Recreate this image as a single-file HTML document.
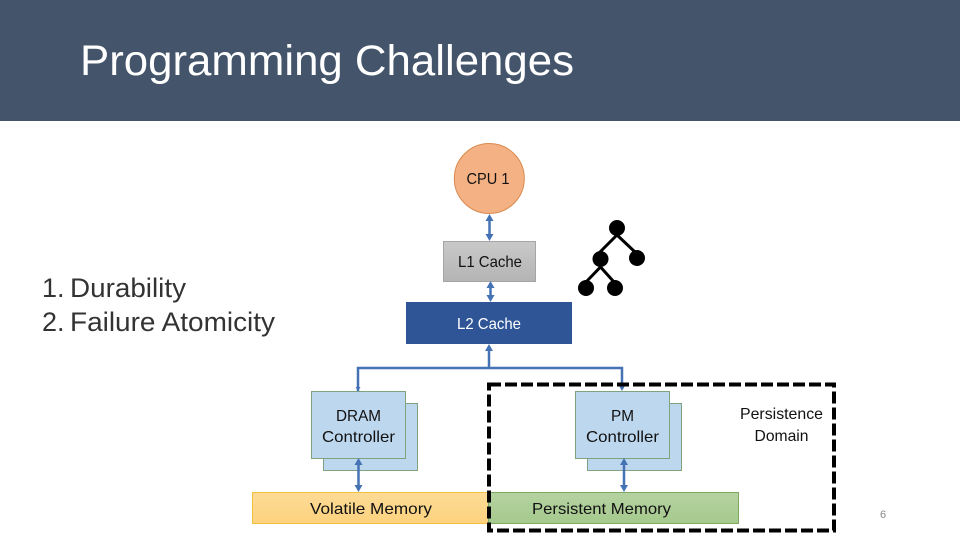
<!DOCTYPE html>
<html><head><meta charset="utf-8"><style>html,body{margin:0;padding:0;background:#fff}svg{display:block}text{font-family:"Liberation Sans",sans-serif}</style></head>
<body>
<svg width="960" height="540" viewBox="0 0 960 540" xmlns="http://www.w3.org/2000/svg">
<defs>
<linearGradient id="g1" x1="0" y1="0" x2="0" y2="1"><stop offset="0" stop-color="#c9c9c9"/><stop offset="1" stop-color="#b4b4b4"/></linearGradient>
<linearGradient id="g2" x1="0" y1="0" x2="0" y2="1"><stop offset="0" stop-color="#fddb96"/><stop offset="1" stop-color="#fdd27e"/></linearGradient>
<linearGradient id="g3" x1="0" y1="0" x2="0" y2="1"><stop offset="0" stop-color="#b5d3a2"/><stop offset="1" stop-color="#a5c98d"/></linearGradient>
</defs>
<rect width="960" height="121" fill="#44546a"/>
<text x="80" y="75" font-size="43" fill="#fff" textLength="494" lengthAdjust="spacingAndGlyphs">Programming Challenges</text>
<text x="42" y="297" font-size="27" fill="#333">1.</text>
<text x="70" y="297" font-size="27" fill="#333" textLength="116" lengthAdjust="spacingAndGlyphs">Durability</text>
<text x="42" y="331" font-size="27" fill="#333">2.</text>
<text x="70" y="331" font-size="27" fill="#333" textLength="205" lengthAdjust="spacingAndGlyphs">Failure Atomicity</text>

<circle cx="489.3" cy="178.5" r="35" fill="#f4b183" stroke="#d98a4e" stroke-width="1"/>
<rect x="443.5" y="241.5" width="92" height="40" fill="url(#g1)" stroke="#a5a5a5"/>
<rect x="406" y="302" width="166" height="42" fill="#2f5597"/>

<rect x="323.5" y="403.5" width="94" height="67" fill="#bdd7ee" stroke="#7fa37f"/>
<rect x="311.5" y="391.5" width="94" height="67" fill="#bdd7ee" stroke="#7fa37f"/>
<rect x="587.5" y="403.5" width="94" height="67" fill="#bdd7ee" stroke="#7fa37f"/>
<rect x="575.5" y="391.5" width="94" height="67" fill="#bdd7ee" stroke="#7fa37f"/>
<rect x="252.5" y="492.5" width="236" height="31" fill="url(#g2)" stroke="#f0c040"/>
<rect x="488.5" y="492.5" width="250" height="31" fill="url(#g3)" stroke="#7fa860"/>

<g stroke="#4472b4" stroke-width="2.5" fill="none">
<path d="M489.500 218V237"/><path d="M490.500 285V298"/><path d="M489 348V368"/>
<path d="M358 391V368H622V387"/>
<path d="M358.500 463V488"/><path d="M624 463V488"/>
</g>
<g fill="#4472b4">
<path d="M489.500 214l-4 7h8z"/><path d="M489.500 241l-4-7h8z"/>
<path d="M490.500 281l-4 7h8z"/><path d="M490.500 302l-4-7h8z"/>
<path d="M489 344l-4 7h8z"/>
<path d="M358 391l-2.500-4h5z"/>
<path d="M622 391l-4-7h8z"/>
<path d="M358.500 458l-4 7h8z"/><path d="M358.500 492l-4-7h8z"/>
<path d="M624 458l-4 7h8z"/><path d="M624 492l-4-7h8z"/>
</g>

<rect x="489" y="384.500" width="345" height="146" fill="none" stroke="#000" stroke-width="4" stroke-dasharray="12 4"/>

<g stroke="#000" stroke-width="3" fill="none">
<path d="M617 228V235"/>
<path d="M600 252L617 235L635 252"/>
<path d="M600.500 259V267"/>
<path d="M586 282L600.500 267L614 282"/>
</g>
<g fill="#000">
<circle cx="617" cy="228" r="8"/><circle cx="600.500" cy="259" r="8"/><circle cx="637" cy="258" r="8"/><circle cx="586" cy="288" r="8"/><circle cx="615" cy="288" r="8"/>
</g>

<g font-size="16" fill="#111" text-anchor="middle">
<text x="488" y="184" textLength="43" lengthAdjust="spacingAndGlyphs">CPU 1</text>
<text x="490" y="267" textLength="64" lengthAdjust="spacingAndGlyphs">L1 Cache</text>
<text x="489" y="329" textLength="64" lengthAdjust="spacingAndGlyphs" fill="#fff">L2 Cache</text>
<text x="358.500" y="421" textLength="45" lengthAdjust="spacingAndGlyphs">DRAM</text>
<text x="358.500" y="442" textLength="73" lengthAdjust="spacingAndGlyphs">Controller</text>
<text x="622.500" y="421" textLength="23" lengthAdjust="spacingAndGlyphs">PM</text>
<text x="622.500" y="442" textLength="73" lengthAdjust="spacingAndGlyphs">Controller</text>
<text x="371" y="514" textLength="122" lengthAdjust="spacingAndGlyphs">Volatile Memory</text>
<text x="601.500" y="514" textLength="139" lengthAdjust="spacingAndGlyphs">Persistent Memory</text>
<text x="781.500" y="419" textLength="83" lengthAdjust="spacingAndGlyphs">Persistence</text>
<text x="781.500" y="441" textLength="54" lengthAdjust="spacingAndGlyphs">Domain</text>
</g>
<text x="883" y="518" font-size="11" fill="#8a8a8a" text-anchor="middle">6</text>
</svg>
</body></html>
